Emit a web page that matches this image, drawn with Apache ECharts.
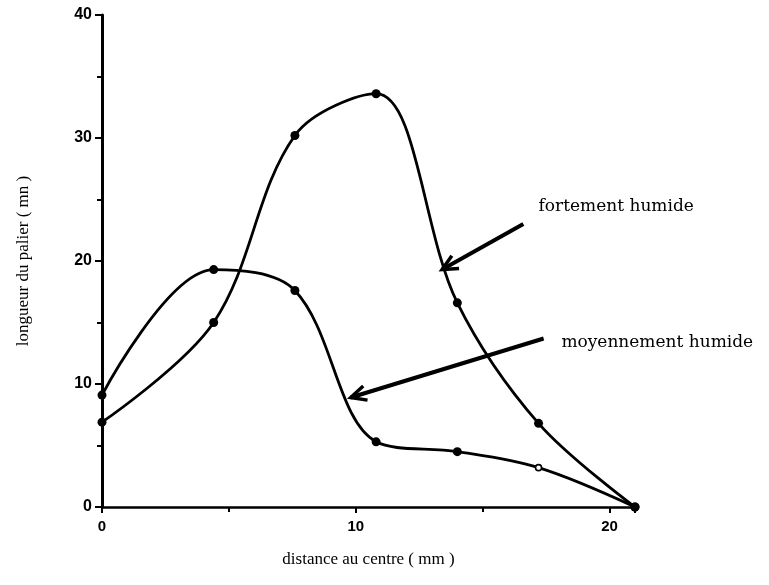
<!DOCTYPE html>
<html>
<head>
<meta charset="utf-8">
<script src="https://cdn.jsdelivr.net/npm/echarts@6/dist/echarts.min.js"></script>
<style>
html,body{margin:0;padding:0;background:#fff;}
#c{width:769px;height:585px;}
</style>
</head>
<body>
<div id="c"></div>
<script>
// distance au centre (mm) of the measurement points
const xValues = [0, 4.4, 7.6, 10.8, 14.0, 17.2, 21];
// longueur du palier (mn)
const fortement = [6.9, 15.0, 30.2, 33.6, 16.6, 6.8, 0];
const moyennement = [9.1, 19.3, 17.6, 5.3, 4.5, 3.2, 0];
// index of the point drawn as an open circle in the "moyennement" series
const moyOpenIndex = 5;
// annotation arrows: [tailX, tailY, headX, headY] in data units
const arrowFortement = [16.6, 23.0, 13.4, 19.3];
const arrowMoyennement = [17.4, 13.7, 9.8, 8.9];
// annotation labels: [x, y] in data units
const labelNames = ['fortement humide', 'moyennement humide'];
const labelPos = [[17.2, 24.4], [18.1, 13.4]];
const xTicks = [0, 10, 20];
const yTicks = [0, 10, 20, 30, 40];

const chart = echarts.init(document.getElementById('c'));

function pairs(xs, ys) { return xs.map((x, i) => [x, ys[i]]); }

const moyData = pairs(xValues, moyennement).map((p, i) =>
  i === moyOpenIndex ? { value: p, symbol: 'circle', symbolSize: 6, itemStyle: { color: '#fff', borderColor: '#000', borderWidth: 1.6 } } : p);

const option = {
  animation: false,
  backgroundColor: '#fff',
  grid: { left: 102, right: 134, top: 15, bottom: 78, containLabel: false },
  xAxis: {
    type: 'value', min: 0, max: 21, interval: 10,
    name: 'distance au centre ( mm )', nameLocation: 'middle', nameGap: 44,
    nameTextStyle: { fontFamily: 'Liberation Serif', fontSize: 17, color: '#000' },
    axisLine: { onZero: false, lineStyle: { color: '#000', width: 2.5 } },
    axisTick: { show: true, length: 6, lineStyle: { color: '#000', width: 2 } },
    minorTick: { show: true, splitNumber: 2, length: 5, lineStyle: { color: '#000', width: 2 } },
    splitLine: { show: false },
    axisLabel: { color: '#000', fontFamily: 'Liberation Sans', fontWeight: 'bold', fontSize: 15, margin: 12,
      formatter: v => (xTicks.indexOf(v) >= 0 ? String(v) : '') }
  },
  yAxis: {
    type: 'value', min: 0, max: 40, interval: 10,
    name: 'longueur du palier ( mn )', nameLocation: 'middle', nameGap: 70, nameRotate: 90,
    nameTextStyle: { fontFamily: 'Liberation Serif', fontSize: 17, color: '#000' },
    axisLine: { show: true, lineStyle: { color: '#000', width: 3 } },
    axisTick: { show: true, length: 7, lineStyle: { color: '#000', width: 2 } },
    minorTick: { show: true, splitNumber: 2, length: 5, lineStyle: { color: '#000', width: 2 } },
    splitLine: { show: false },
    axisLabel: { color: '#000', fontFamily: 'Liberation Sans', fontWeight: 'bold', fontSize: 16, margin: 10,
      formatter: v => (yTicks.indexOf(v) >= 0 ? String(v) : '') }
  },
  series: [
    {
      name: 'fortement humide', type: 'line', data: pairs(xValues, fortement),
      smooth: 0.35, symbol: 'circle', symbolSize: 9,
      lineStyle: { color: '#000', width: 2.8 }, itemStyle: { color: '#000' }, z: 3
    },
    {
      name: 'moyennement humide', type: 'line', data: moyData,
      smooth: 0.35, symbol: 'circle', symbolSize: 9,
      lineStyle: { color: '#000', width: 2.8 }, itemStyle: { color: '#000' }, z: 3
    },
    {
      type: 'custom', data: [arrowFortement, arrowMoyennement], silent: true, z: 4,
      renderItem: function (params, api) {
        const t = api.coord([api.value(0), api.value(1)]);
        const h = api.coord([api.value(2), api.value(3)]);
        const ang = Math.atan2(t[1] - h[1], t[0] - h[0]);
        const L = 17, a = 0.45;
        const w1 = [h[0] + L * Math.cos(ang + a), h[1] + L * Math.sin(ang + a)];
        const w2 = [h[0] + L * Math.cos(ang - a), h[1] + L * Math.sin(ang - a)];
        return {
          type: 'group', children: [
            { type: 'line', shape: { x1: t[0], y1: t[1], x2: h[0], y2: h[1] }, style: { stroke: '#000', lineWidth: 4 } },
            { type: 'polyline', shape: { points: [w1, h, w2] }, style: { stroke: '#000', lineWidth: 3.5, fill: null } }
          ]
        };
      }
    },
    {
      type: 'custom', data: labelPos.map((p, i) => [p[0], p[1], i]), silent: true, z: 4,
      renderItem: function (params, api) {
        const p = api.coord([api.value(0), api.value(1)]);
        return {
          type: 'text', x: p[0], y: p[1],
          style: { text: labelNames[api.value(2)], fill: '#000', fontFamily: 'DejaVu Serif', fontSize: 17,
            verticalAlign: 'middle', align: 'left' }
        };
      }
    }
  ]
};
chart.setOption(option);
</script>
</body>
</html>
